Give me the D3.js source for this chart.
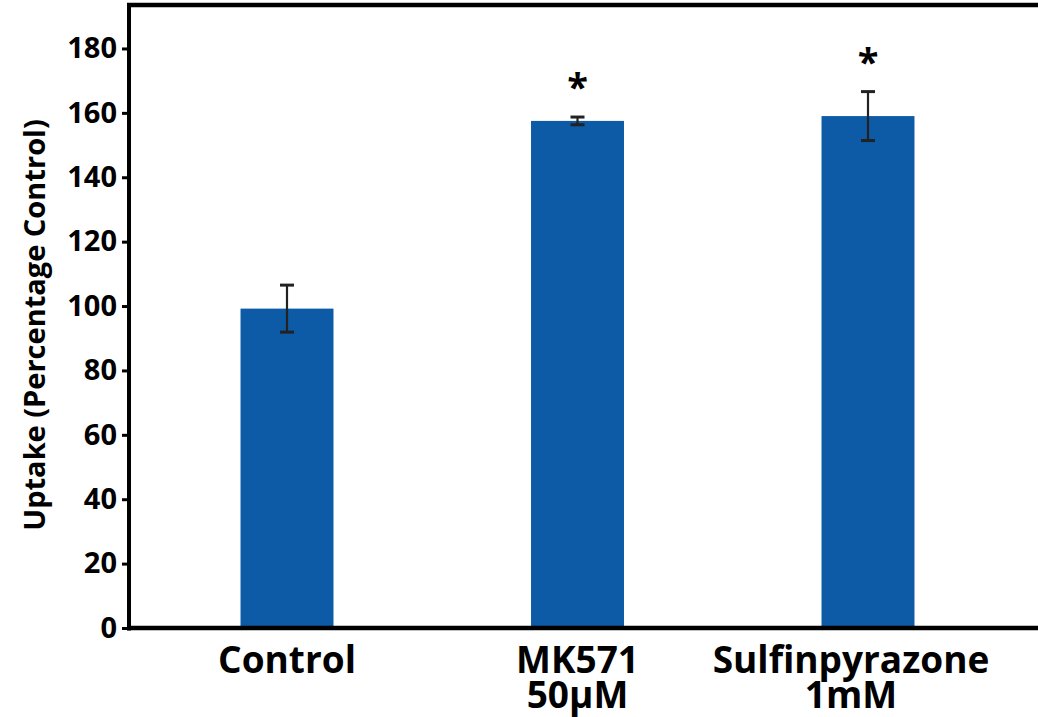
<!DOCTYPE html>
<html>
<head>
<meta charset="utf-8">
<script src="https://cdn.jsdelivr.net/npm/d3@7"></script>
<style>
  html, body { margin: 0; padding: 0; background: #fff; }
  svg { display: block; font-family: "Open Sans", "DejaVu Sans", sans-serif; font-weight: 700; }
</style>
</head>
<body>
<svg id="chart" width="1038" height="717"></svg>
<script>
// ---- data ----
const categories = ["Control", "MK571\n50\u03bcM", "Sulfinpyrazone\n1mM"];
const means = [99.2, 157.5, 159.0];
const errors = [7.3, 1.2, 7.6];
const significant = [false, true, true];
const yTicks = [0, 20, 40, 60, 80, 100, 120, 140, 160, 180];
const yTitle = "Uptake (Percentage Control)";

// ---- layout ----
const plotLeft = 129, plotTop = 5, plotBottom = 628, plotRight = 1038;
const barColor = "#0d5aa7";
const FONT = "'Open Sans', 'DejaVu Sans', sans-serif";

const svg = d3.select("#chart");

const y = d3.scaleLinear().domain([0, 193.5]).range([plotBottom, plotTop]);
const x = d3.scaleBand()
  .domain(categories)
  .range([141.75, 1013.25])
  .paddingInner(0.68)
  .paddingOuter(0.34);

// bars
svg.append("g").selectAll("rect")
  .data(categories)
  .join("rect")
  .attr("x", d => x(d))
  .attr("width", x.bandwidth())
  .attr("y", (d, i) => y(means[i]))
  .attr("height", (d, i) => y(0) - y(means[i]))
  .attr("fill", barColor);

// error bars
const eg = svg.append("g").attr("stroke", "#222");
categories.forEach((c, i) => {
  const cx = x(c) + x.bandwidth() / 2;
  const hi = y(means[i] + errors[i]), lo = y(means[i] - errors[i]);
  eg.append("line").attr("x1", cx).attr("x2", cx).attr("y1", hi).attr("y2", lo).attr("stroke-width", 2.2);
  eg.append("line").attr("x1", cx - 7).attr("x2", cx + 7).attr("y1", hi).attr("y2", hi).attr("stroke-width", 3);
  eg.append("line").attr("x1", cx - 7).attr("x2", cx + 7).attr("y1", lo).attr("y2", lo).attr("stroke-width", 3);
  if (significant[i]) {
    svg.append("text")
      .attr("x", cx)
      .attr("y", hi - 37)
      .attr("dy", "0.55em")
      .attr("text-anchor", "middle")
      .attr("font-size", 38)
      .attr("font-family", FONT)
      .attr("fill", "#000")
      .text("*");
  }
});

// y axis
const yAxis = svg.append("g")
  .attr("transform", `translate(${plotLeft},0)`)
  .call(d3.axisLeft(y).tickValues(yTicks).tickSize(7).tickPadding(5).tickFormat(d3.format("d")));
yAxis.attr("font-family", FONT);
yAxis.select(".domain").remove();
yAxis.selectAll(".tick line").attr("stroke", "#000").attr("stroke-width", 3);
yAxis.selectAll(".tick text").attr("font-size", 29).attr("font-weight", 700).attr("fill", "#000");

// frame lines: left axis, bottom axis, top border
svg.append("line").attr("x1", plotLeft).attr("x2", plotLeft).attr("y1", plotTop - 2).attr("y2", plotBottom + 2.5)
  .attr("stroke", "#000").attr("stroke-width", 4);
svg.append("line").attr("x1", plotLeft - 2).attr("x2", plotRight).attr("y1", plotBottom).attr("y2", plotBottom)
  .attr("stroke", "#000").attr("stroke-width", 4.5);
svg.append("line").attr("x1", plotLeft - 2).attr("x2", plotRight).attr("y1", plotTop).attr("y2", plotTop)
  .attr("stroke", "#000").attr("stroke-width", 4.5);

// x axis labels
const xAxis = svg.append("g")
  .attr("transform", `translate(0,${plotBottom})`)
  .call(d3.axisBottom(x).tickSize(0).tickFormat(""));
xAxis.attr("font-family", FONT);
xAxis.select(".domain").remove();
const labelShift = [0, 0, -17];
xAxis.selectAll(".tick").each(function(d, i) {
  const t = d3.select(this).append("text")
    .attr("text-anchor", "middle")
    .attr("font-size", 37)
    .attr("font-weight", 700)
    .attr("fill", "#000")
    .attr("x", labelShift[i]);
  d.split("\n").forEach((line, j) => {
    t.append("tspan").attr("x", labelShift[i]).attr("y", 45 + j * 35).text(line);
  });
});

// y title
svg.append("text")
  .attr("transform", `translate(45,325) rotate(-90)`)
  .attr("text-anchor", "middle")
  .attr("font-size", 29)
  .attr("font-family", FONT)
  .attr("fill", "#000")
  .text(yTitle);
</script>
</body>
</html>
